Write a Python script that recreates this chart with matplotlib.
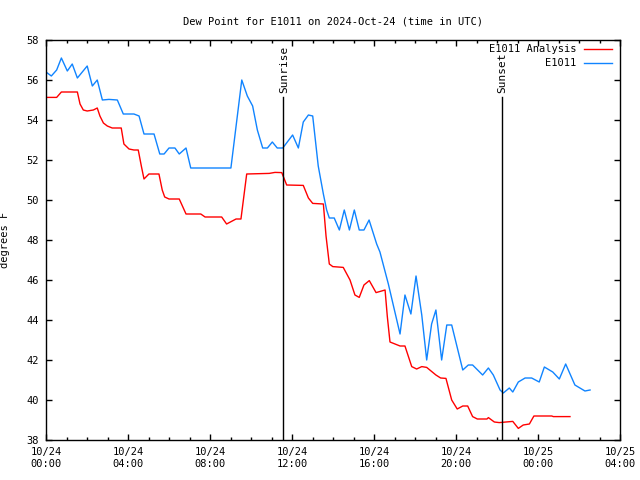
import matplotlib
matplotlib.use('Agg')
import matplotlib.pyplot as plt
from matplotlib.ticker import MultipleLocator

# hours since 2024-10-24 00:00 UTC, dew point in degrees F
obs_hours = [0.00, 0.26, 0.52, 0.75, 1.04, 1.28, 1.53, 2.01, 2.26, 2.50,
             2.75, 3.07, 3.48, 3.77, 4.29, 4.54, 4.78, 5.27, 5.55, 5.76,
             6.00, 6.29, 6.50, 6.83, 7.06, 9.02, 9.55, 9.82, 10.08, 10.31,
             10.57, 10.80, 11.04, 11.28, 11.55, 12.03, 12.31, 12.55, 12.80, 13.01,
             13.28, 13.53, 13.69, 13.82, 14.06, 14.31, 14.55, 14.80, 15.04, 15.28,
             15.51, 15.76, 16.13, 16.29, 16.70, 17.27, 17.51, 17.80, 18.05, 18.33,
             18.57, 18.81, 19.02, 19.30, 19.55, 19.79, 20.33, 20.60, 20.81, 21.30,
             21.58, 21.82, 22.15, 22.31, 22.60, 22.77, 23.04, 23.37, 23.69, 24.06,
             24.31, 24.72, 25.04, 25.35, 25.80, 26.29, 26.54]
obs_dewpt = [56.4, 56.2, 56.5, 57.1, 56.45, 56.8, 56.1, 56.7, 55.7, 56.0,
             55.0, 55.03, 55.0, 54.3, 54.3, 54.2, 53.3, 53.3, 52.3, 52.3,
             52.6, 52.6, 52.3, 52.6, 51.6, 51.6, 56.0, 55.2, 54.7, 53.5,
             52.6, 52.6, 52.9, 52.6, 52.6, 53.25, 52.6, 53.9, 54.25, 54.2,
             51.7, 50.3, 49.5, 49.1, 49.1, 48.5, 49.5, 48.5, 49.5, 48.5,
             48.5, 49.0, 47.8, 47.4, 45.8, 43.3, 45.25, 44.3, 46.2, 44.25,
             42.0, 43.8, 44.5, 42.0, 43.75, 43.75, 41.5, 41.75, 41.75, 41.25,
             41.6, 41.25, 40.5, 40.35, 40.6, 40.4, 40.9, 41.1, 41.1, 40.9,
             41.65, 41.4, 41.05, 41.8, 40.75, 40.45, 40.5]

ana_hours = [0.00, 0.52, 0.75, 1.53, 1.66, 1.82, 2.01, 2.31, 2.50, 2.63,
             2.80, 2.99, 3.23, 3.67, 3.80, 4.05, 4.29, 4.50, 4.65, 4.78,
             5.02, 5.51, 5.67, 5.79, 6.00, 6.50, 6.83, 6.94, 7.55, 7.76,
             8.57, 8.81, 9.27, 9.51, 9.79, 10.89, 11.17, 11.50, 11.74, 12.55,
             12.80, 13.01, 13.53, 13.66, 13.82, 13.99, 14.50, 14.83, 15.07, 15.28,
             15.51, 15.77, 16.10, 16.54, 16.65, 16.78, 17.27, 17.51, 17.84, 18.08,
             18.33, 18.57, 19.02, 19.25, 19.51, 19.79, 20.06, 20.33, 20.57, 20.81,
             21.04, 21.51, 21.58, 21.87, 22.11, 22.77, 23.04, 23.28, 23.58, 23.80,
             24.67, 24.75, 25.56]
ana_dewpt = [55.13, 55.13, 55.4, 55.4, 54.8, 54.5, 54.45, 54.5, 54.6, 54.2,
             53.85, 53.7, 53.6, 53.6, 52.8, 52.55, 52.5, 52.5, 51.7, 51.05,
             51.3, 51.3, 50.5, 50.15, 50.05, 50.05, 49.3, 49.3, 49.3, 49.15,
             49.15, 48.8, 49.05, 49.05, 51.3, 51.33, 51.38, 51.37, 50.75, 50.73,
             50.1, 49.83, 49.8, 48.2, 46.8, 46.67, 46.63, 46.0, 45.25, 45.13,
             45.75, 45.97, 45.37, 45.5, 44.17, 42.9, 42.7, 42.7, 41.67, 41.55,
             41.67, 41.63, 41.25, 41.1, 41.08, 40.0, 39.55, 39.7, 39.7, 39.17,
             39.05, 39.05, 39.12, 38.9, 38.87, 38.93, 38.58, 38.75, 38.8, 39.2,
             39.2, 39.17, 39.17]

sun_events = {'Sunrise': 11.55, 'Sunset': 22.23}

tick_hours = [0, 4, 8, 12, 16, 20, 24, 28]
tick_labels = ['10/24\n00:00', '10/24\n04:00', '10/24\n08:00', '10/24\n12:00',
               '10/24\n16:00', '10/24\n20:00', '10/25\n00:00', '10/25\n04:00']

plt.rcParams['font.family'] = ['DejaVu Sans Mono']
plt.rcParams['font.size'] = 7.5

fig = plt.figure(figsize=(6.4, 4.8), dpi=100, facecolor='white')
ax = fig.add_axes([46 / 640, 40 / 480, 574 / 640, 400 / 480])

red = '#ff0000'
blue = '#1084ff'
ax.plot(ana_hours, ana_dewpt, color=red, lw=1.0)
ax.plot(obs_hours, obs_dewpt, color=blue, lw=1.0)

for name, h in sun_events.items():
    ax.plot([h, h], [38, 55.15], color='black', lw=1.0)
    ax.text(h + 0.05, 55.35, name, rotation=90, ha='center', va='bottom', fontsize=8)

ax.set_xlim(0, 28)
ax.set_ylim(38, 58)
ax.set_xticks(tick_hours)
ax.set_xticklabels(tick_labels)
ax.xaxis.set_minor_locator(MultipleLocator(1))
ax.yaxis.set_major_locator(MultipleLocator(2))
ax.tick_params(which='both', direction='in', top=True, right=True, width=1.0)
ax.tick_params(which='major', length=4.5, pad=5)
ax.tick_params(which='minor', length=2.5)
for s in ax.spines.values():
    s.set_linewidth(1.0)

ax.set_ylabel('degrees F')
ax.yaxis.set_label_coords(-0.063, 0.5)
ax.set_title('Dew Point for E1011 on 2024-Oct-24 (time in UTC)', pad=11, fontsize=7.5)

# gnuplot-style key: right-aligned label, sample line to its right
for i, (label, c) in enumerate([('E1011 Analysis', red), ('E1011', blue)]):
    y = 0.977 - i * 0.034
    ax.text(0.924, y, label, transform=ax.transAxes, ha='right', va='center')
    ax.plot([0.938, 0.986], [y, y], transform=ax.transAxes, color=c, lw=1.0)

fig.savefig('out.png', dpi=100)
